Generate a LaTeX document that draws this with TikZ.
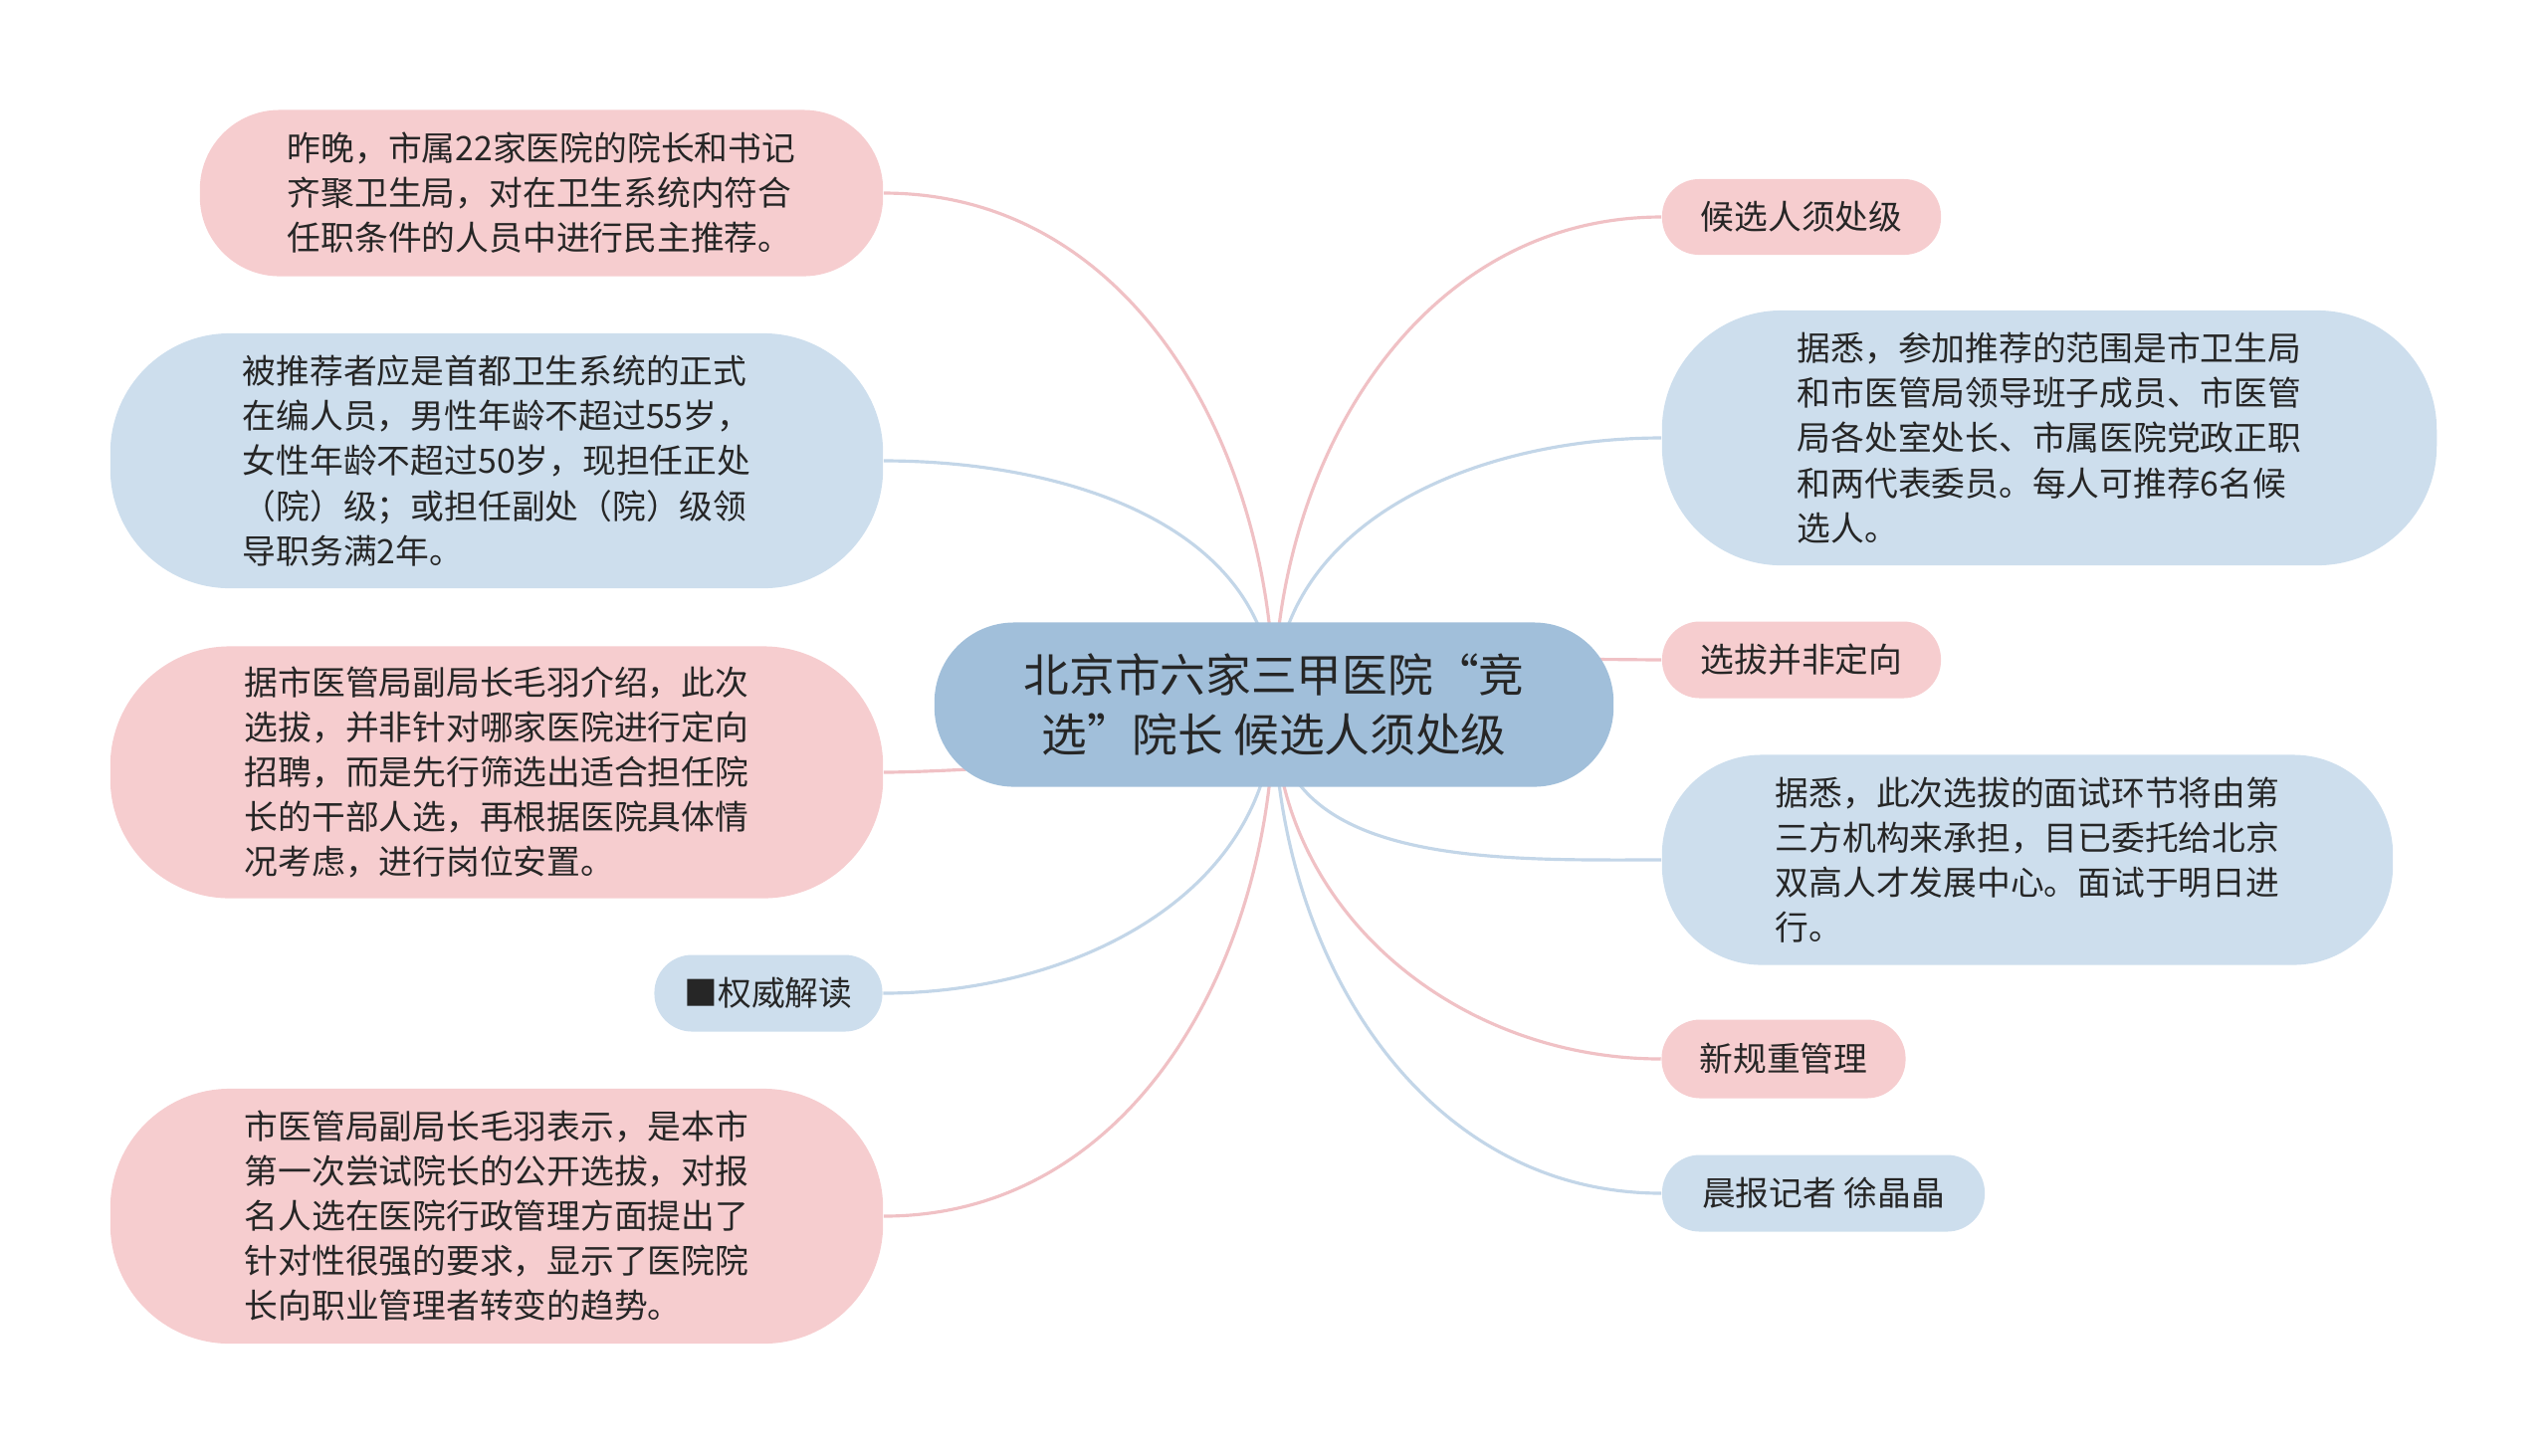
\documentclass[tikz,border=0pt]{standalone}
\usepackage{fontspec}
\newfontfamily\cjk{Noto Sans CJK SC}
\usetikzlibrary{backgrounds}

\definecolor{pinkfill}{RGB}{246,205,207}
\definecolor{bluefill}{RGB}{205,222,237}
\definecolor{rootfill}{RGB}{161,191,218}
\definecolor{pinkline}{RGB}{240,193,197}
\definecolor{blueline}{RGB}{195,214,232}
\definecolor{inkgray}{RGB}{38,38,38}

\tikzset{
    leaf/.style={inner sep=0pt, align=left, text=inkgray,
                 font=\cjk\fontsize{9.6}{12.8}\selectfont},
    pinkleaf/.style={leaf, fill=pinkfill},
    blueleaf/.style={leaf, fill=bluefill},
    pinkwire/.style={draw=pinkline, line width=0.9pt},
    bluewire/.style={draw=blueline, line width=0.9pt}
}

\begin{document}
\begin{tikzpicture}[x=0.01cm, y=-0.01cm]
    % Fix the page to the size of the reference
    \useasboundingbox (0,0) rectangle (2560,1462);

    % Central topic
    \node (root) at (1280,708) [fill=rootfill, text=inkgray, inner sep=0pt,
        minimum width=6.82cm, minimum height=1.65cm, rounded corners=0.8cm,
        align=center, font=\cjk\fontsize{13}{17.2}\selectfont]
        {北京市六家三甲医院“竞\\选”院长 候选人须处级};

    % Left branches
    \node (l1) at (544,194) [pinkleaf, minimum width=6.86cm, minimum height=1.67cm, rounded corners=0.8cm]
        {昨晚，市属22家医院的院长和书记\\齐聚卫生局，对在卫生系统内符合\\任职条件的人员中进行民主推荐。};
    \node (l2) at (499,463) [blueleaf, minimum width=7.76cm, minimum height=2.56cm, rounded corners=1.2cm]
        {被推荐者应是首都卫生系统的正式\\在编人员，男性年龄不超过55岁，\\女性年龄不超过50岁，现担任正处\\（院）级；或担任副处（院）级领\\导职务满2年。};
    \node (l3) at (499,776) [pinkleaf, minimum width=7.76cm, minimum height=2.53cm, rounded corners=1.2cm]
        {据市医管局副局长毛羽介绍，此次\\选拔，并非针对哪家医院进行定向\\招聘，而是先行筛选出适合担任院\\长的干部人选，再根据医院具体情\\况考虑，进行岗位安置。};
    \node (l4) at (772,998) [blueleaf, minimum width=2.29cm, minimum height=0.77cm, rounded corners=0.38cm]
        {■权威解读};
    \node (l5) at (499,1222) [pinkleaf, minimum width=7.76cm, minimum height=2.56cm, rounded corners=1.2cm]
        {市医管局副局长毛羽表示，是本市\\第一次尝试院长的公开选拔，对报\\名人选在医院行政管理方面提出了\\针对性很强的要求，显示了医院院\\长向职业管理者转变的趋势。};

    % Right branches
    \node (r1) at (1810,218) [pinkleaf, minimum width=2.80cm, minimum height=0.76cm, rounded corners=0.37cm]
        {候选人须处级};
    \node (r2) at (2059,440) [blueleaf, minimum width=7.78cm, minimum height=2.56cm, rounded corners=1.2cm]
        {据悉，参加推荐的范围是市卫生局\\和市医管局领导班子成员、市医管\\局各处室处长、市属医院党政正职\\和两代表委员。每人可推荐6名候\\选人。};
    \node (r3) at (1810,663) [pinkleaf, minimum width=2.80cm, minimum height=0.77cm, rounded corners=0.38cm]
        {选拔并非定向};
    \node (r4) at (2037,864) [blueleaf, minimum width=7.34cm, minimum height=2.11cm, rounded corners=1.0cm]
        {据悉，此次选拔的面试环节将由第\\三方机构来承担，目已委托给北京\\双高人才发展中心。面试于明日进\\行。};
    \node (r5) at (1792,1064) [pinkleaf, minimum width=2.45cm, minimum height=0.79cm, rounded corners=0.39cm]
        {新规重管理};
    \node (r6) at (1832,1199) [blueleaf, minimum width=3.24cm, minimum height=0.77cm, rounded corners=0.38cm]
        {晨报记者 徐晶晶};

    % Connectors go behind the boxes
    \begin{scope}[on background layer]
        \draw[pinkwire] (root.center) to[out=90,in=0] (l1.east);
        \draw[bluewire] (root.center) to[out=90,in=0] (l2.east);
        \draw[pinkwire] (root.center) to[out=-90,in=0,looseness=0.35] (l3.east);
        \draw[bluewire] (root.center) to[out=-90,in=0] (l4.east);
        \draw[pinkwire] (root.center) to[out=-90,in=0] (l5.east);

        \draw[pinkwire] (root.center) to[out=90,in=180] (r1.west);
        \draw[bluewire] (root.center) to[out=90,in=180] (r2.west);
        \draw[pinkwire] (root.center) to[out=90,in=180,looseness=0.35] (r3.west);
        \draw[bluewire] (root.center) to[out=-90,in=180] (r4.west);
        \draw[pinkwire] (root.center) to[out=-90,in=180] (r5.west);
        \draw[bluewire] (root.center) to[out=-90,in=180] (r6.west);
    \end{scope}
\end{tikzpicture}
\end{document}
